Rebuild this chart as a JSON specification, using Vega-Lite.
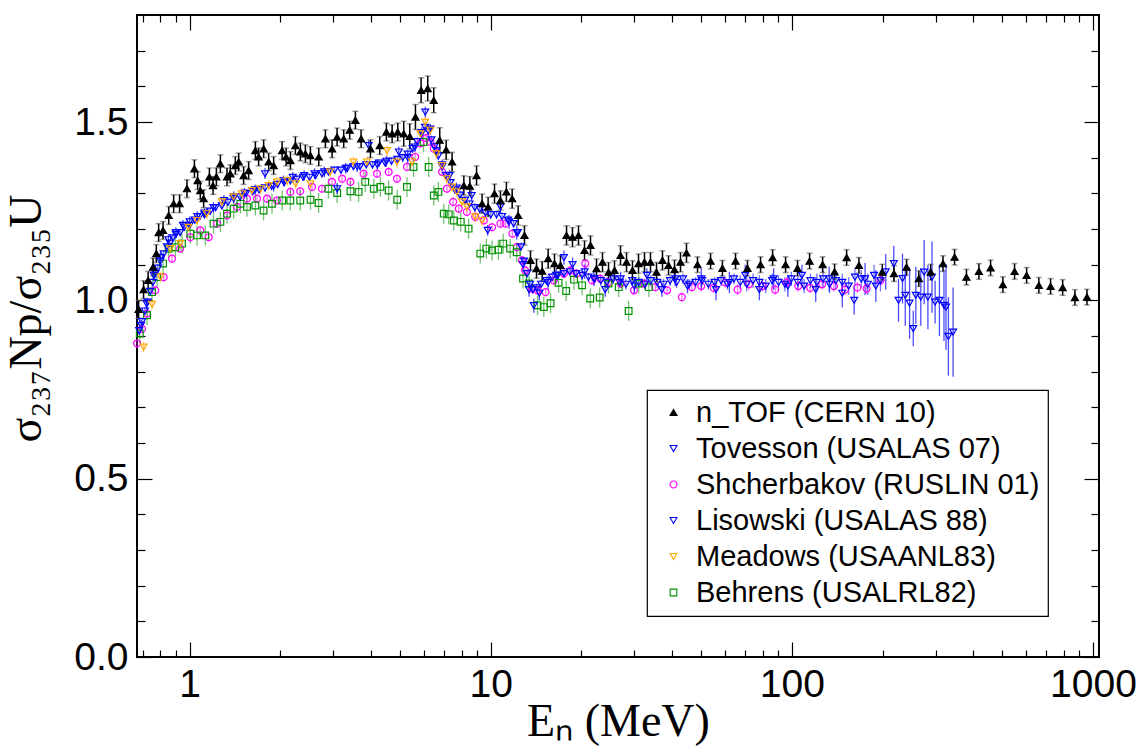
{
"$schema": "https://vega.github.io/schema/vega-lite/v6.json",
"width": 962, "height": 642,
"autosize": "none",
"padding": {"left": 137, "top": 15, "right": 47, "bottom": 99},
"background": "white",
"config": {
  "view": {"stroke": "black", "strokeWidth": 2},
  "axis": {"grid": false, "domain": false, "labelFont": "Liberation Sans", "labelColor": "black", "tickColor": "black", "tickWidth": 1.2},
  "legend": {"orient": "none", "legendX": 510, "legendY": 375, "fillColor": "white", "strokeColor": "black", "strokeWidth": 1.2, "padding": 8, "labelFont": "Liberation Sans", "labelFontSize": 29, "labelColor": "black", "rowPadding": 6, "labelOffset": 8, "symbolOffset": 4, "labelLimit": 600, "symbolStrokeWidth": 1.1}
},
"data": {"values": [
{"s":"Shcherbakov (RUSLIN 01)","E":0.669,"y":0.879,"e":0.012},
{"s":"Shcherbakov (RUSLIN 01)","E":0.695,"y":0.92,"e":0.012},
{"s":"Shcherbakov (RUSLIN 01)","E":0.722,"y":0.963,"e":0.012},
{"s":"Shcherbakov (RUSLIN 01)","E":0.769,"y":1.028,"e":0.012},
{"s":"Shcherbakov (RUSLIN 01)","E":0.82,"y":1.065,"e":0.012},
{"s":"Shcherbakov (RUSLIN 01)","E":0.874,"y":1.117,"e":0.012},
{"s":"Shcherbakov (RUSLIN 01)","E":0.93,"y":1.145,"e":0.012},
{"s":"Shcherbakov (RUSLIN 01)","E":1.005,"y":1.177,"e":0.012},
{"s":"Shcherbakov (RUSLIN 01)","E":1.085,"y":1.196,"e":0.012},
{"s":"Shcherbakov (RUSLIN 01)","E":1.157,"y":1.177,"e":0.012},
{"s":"Shcherbakov (RUSLIN 01)","E":1.233,"y":1.215,"e":0.012},
{"s":"Shcherbakov (RUSLIN 01)","E":1.331,"y":1.238,"e":0.012},
{"s":"Shcherbakov (RUSLIN 01)","E":1.437,"y":1.262,"e":0.012},
{"s":"Shcherbakov (RUSLIN 01)","E":1.55,"y":1.285,"e":0.012},
{"s":"Shcherbakov (RUSLIN 01)","E":1.674,"y":1.285,"e":0.012},
{"s":"Shcherbakov (RUSLIN 01)","E":1.807,"y":1.285,"e":0.012},
{"s":"Shcherbakov (RUSLIN 01)","E":1.95,"y":1.28,"e":0.012},
{"s":"Shcherbakov (RUSLIN 01)","E":2.16,"y":1.304,"e":0.012},
{"s":"Shcherbakov (RUSLIN 01)","E":2.33,"y":1.306,"e":0.012},
{"s":"Shcherbakov (RUSLIN 01)","E":2.55,"y":1.318,"e":0.012},
{"s":"Shcherbakov (RUSLIN 01)","E":2.75,"y":1.313,"e":0.012},
{"s":"Shcherbakov (RUSLIN 01)","E":2.97,"y":1.332,"e":0.012},
{"s":"Shcherbakov (RUSLIN 01)","E":3.21,"y":1.341,"e":0.012},
{"s":"Shcherbakov (RUSLIN 01)","E":3.42,"y":1.332,"e":0.012},
{"s":"Shcherbakov (RUSLIN 01)","E":3.78,"y":1.355,"e":0.012},
{"s":"Shcherbakov (RUSLIN 01)","E":4.19,"y":1.355,"e":0.012},
{"s":"Shcherbakov (RUSLIN 01)","E":4.58,"y":1.36,"e":0.012},
{"s":"Shcherbakov (RUSLIN 01)","E":4.88,"y":1.341,"e":0.012},
{"s":"Shcherbakov (RUSLIN 01)","E":5.27,"y":1.374,"e":0.012},
{"s":"Shcherbakov (RUSLIN 01)","E":5.61,"y":1.402,"e":0.012},
{"s":"Shcherbakov (RUSLIN 01)","E":5.84,"y":1.44,"e":0.012},
{"s":"Shcherbakov (RUSLIN 01)","E":6.1,"y":1.455,"e":0.012},
{"s":"Shcherbakov (RUSLIN 01)","E":6.3,"y":1.444,"e":0.012},
{"s":"Shcherbakov (RUSLIN 01)","E":6.47,"y":1.425,"e":0.012},
{"s":"Shcherbakov (RUSLIN 01)","E":6.89,"y":1.36,"e":0.012},
{"s":"Shcherbakov (RUSLIN 01)","E":7.15,"y":1.313,"e":0.012},
{"s":"Shcherbakov (RUSLIN 01)","E":7.5,"y":1.276,"e":0.012},
{"s":"Shcherbakov (RUSLIN 01)","E":7.83,"y":1.257,"e":0.012},
{"s":"Shcherbakov (RUSLIN 01)","E":8.33,"y":1.248,"e":0.012},
{"s":"Shcherbakov (RUSLIN 01)","E":8.88,"y":1.234,"e":0.012},
{"s":"Shcherbakov (RUSLIN 01)","E":9.48,"y":1.224,"e":0.012},
{"s":"Shcherbakov (RUSLIN 01)","E":10.1,"y":1.205,"e":0.012},
{"s":"Shcherbakov (RUSLIN 01)","E":10.77,"y":1.215,"e":0.012},
{"s":"Shcherbakov (RUSLIN 01)","E":11.2,"y":1.215,"e":0.012},
{"s":"Shcherbakov (RUSLIN 01)","E":11.8,"y":1.187,"e":0.012},
{"s":"Shcherbakov (RUSLIN 01)","E":12.2,"y":1.149,"e":0.012},
{"s":"Shcherbakov (RUSLIN 01)","E":12.7,"y":1.112,"e":0.012},
{"s":"Shcherbakov (RUSLIN 01)","E":13.0,"y":1.084,"e":0.012},
{"s":"Shcherbakov (RUSLIN 01)","E":13.7,"y":1.033,"e":0.012},
{"s":"Shcherbakov (RUSLIN 01)","E":14.3,"y":1.028,"e":0.012},
{"s":"Shcherbakov (RUSLIN 01)","E":15.2,"y":1.023,"e":0.012},
{"s":"Shcherbakov (RUSLIN 01)","E":16.2,"y":1.056,"e":0.012},
{"s":"Shcherbakov (RUSLIN 01)","E":17.5,"y":1.075,"e":0.012},
{"s":"Shcherbakov (RUSLIN 01)","E":18.4,"y":1.084,"e":0.012},
{"s":"Shcherbakov (RUSLIN 01)","E":19.3,"y":1.075,"e":0.012},
{"s":"Shcherbakov (RUSLIN 01)","E":20.6,"y":1.103,"e":0.012},
{"s":"Shcherbakov (RUSLIN 01)","E":21.7,"y":1.056,"e":0.012},
{"s":"Shcherbakov (RUSLIN 01)","E":23.1,"y":1.061,"e":0.012},
{"s":"Shcherbakov (RUSLIN 01)","E":24.6,"y":1.051,"e":0.012},
{"s":"Shcherbakov (RUSLIN 01)","E":27.0,"y":1.047,"e":0.012},
{"s":"Shcherbakov (RUSLIN 01)","E":29.9,"y":1.028,"e":0.012},
{"s":"Shcherbakov (RUSLIN 01)","E":32.2,"y":1.047,"e":0.012},
{"s":"Shcherbakov (RUSLIN 01)","E":35.2,"y":1.037,"e":0.012},
{"s":"Shcherbakov (RUSLIN 01)","E":38.5,"y":1.028,"e":0.012},
{"s":"Shcherbakov (RUSLIN 01)","E":43.1,"y":1.009,"e":0.012},
{"s":"Shcherbakov (RUSLIN 01)","E":46.5,"y":1.037,"e":0.012},
{"s":"Shcherbakov (RUSLIN 01)","E":50,"y":1.04,"e":0.015},
{"s":"Shcherbakov (RUSLIN 01)","E":55,"y":1.035,"e":0.015},
{"s":"Shcherbakov (RUSLIN 01)","E":60,"y":1.05,"e":0.015},
{"s":"Shcherbakov (RUSLIN 01)","E":66,"y":1.03,"e":0.015},
{"s":"Shcherbakov (RUSLIN 01)","E":72,"y":1.045,"e":0.015},
{"s":"Shcherbakov (RUSLIN 01)","E":80,"y":1.04,"e":0.015},
{"s":"Shcherbakov (RUSLIN 01)","E":88,"y":1.03,"e":0.015},
{"s":"Shcherbakov (RUSLIN 01)","E":96,"y":1.05,"e":0.015},
{"s":"Shcherbakov (RUSLIN 01)","E":105,"y":1.04,"e":0.015},
{"s":"Shcherbakov (RUSLIN 01)","E":115,"y":1.035,"e":0.015},
{"s":"Shcherbakov (RUSLIN 01)","E":126,"y":1.045,"e":0.015},
{"s":"Shcherbakov (RUSLIN 01)","E":138,"y":1.04,"e":0.015},
{"s":"Shcherbakov (RUSLIN 01)","E":150,"y":1.03,"e":0.015},
{"s":"Shcherbakov (RUSLIN 01)","E":165,"y":1.036,"e":0.015},
{"s":"Shcherbakov (RUSLIN 01)","E":177,"y":1.033,"e":0.015},
{"s":"Shcherbakov (RUSLIN 01)","E":197,"y":1.056,"e":0.015},
{"s":"Behrens (USALRL82)","E":0.683,"y":0.907,"e":0.028},
{"s":"Behrens (USALRL82)","E":0.722,"y":0.958,"e":0.028},
{"s":"Behrens (USALRL82)","E":0.75,"y":1.023,"e":0.028},
{"s":"Behrens (USALRL82)","E":0.78,"y":1.065,"e":0.028},
{"s":"Behrens (USALRL82)","E":0.816,"y":1.103,"e":0.028},
{"s":"Behrens (USALRL82)","E":0.852,"y":1.145,"e":0.028},
{"s":"Behrens (USALRL82)","E":0.896,"y":1.149,"e":0.028},
{"s":"Behrens (USALRL82)","E":0.943,"y":1.159,"e":0.028},
{"s":"Behrens (USALRL82)","E":1.005,"y":1.187,"e":0.028},
{"s":"Behrens (USALRL82)","E":1.058,"y":1.182,"e":0.028},
{"s":"Behrens (USALRL82)","E":1.127,"y":1.182,"e":0.028},
{"s":"Behrens (USALRL82)","E":1.2,"y":1.215,"e":0.028},
{"s":"Behrens (USALRL82)","E":1.265,"y":1.22,"e":0.028},
{"s":"Behrens (USALRL82)","E":1.331,"y":1.243,"e":0.028},
{"s":"Behrens (USALRL82)","E":1.4,"y":1.257,"e":0.028},
{"s":"Behrens (USALRL82)","E":1.474,"y":1.271,"e":0.028},
{"s":"Behrens (USALRL82)","E":1.55,"y":1.262,"e":0.028},
{"s":"Behrens (USALRL82)","E":1.653,"y":1.266,"e":0.028},
{"s":"Behrens (USALRL82)","E":1.76,"y":1.252,"e":0.028},
{"s":"Behrens (USALRL82)","E":1.877,"y":1.271,"e":0.028},
{"s":"Behrens (USALRL82)","E":2.03,"y":1.28,"e":0.028},
{"s":"Behrens (USALRL82)","E":2.16,"y":1.28,"e":0.028},
{"s":"Behrens (USALRL82)","E":2.33,"y":1.28,"e":0.028},
{"s":"Behrens (USALRL82)","E":2.52,"y":1.282,"e":0.028},
{"s":"Behrens (USALRL82)","E":2.68,"y":1.273,"e":0.028},
{"s":"Behrens (USALRL82)","E":2.89,"y":1.313,"e":0.028},
{"s":"Behrens (USALRL82)","E":3.09,"y":1.301,"e":0.028},
{"s":"Behrens (USALRL82)","E":3.42,"y":1.306,"e":0.028},
{"s":"Behrens (USALRL82)","E":3.64,"y":1.304,"e":0.028},
{"s":"Behrens (USALRL82)","E":3.83,"y":1.332,"e":0.028},
{"s":"Behrens (USALRL82)","E":4.09,"y":1.313,"e":0.028},
{"s":"Behrens (USALRL82)","E":4.3,"y":1.318,"e":0.028},
{"s":"Behrens (USALRL82)","E":4.58,"y":1.308,"e":0.028},
{"s":"Behrens (USALRL82)","E":4.89,"y":1.282,"e":0.028},
{"s":"Behrens (USALRL82)","E":5.27,"y":1.318,"e":0.028},
{"s":"Behrens (USALRL82)","E":5.54,"y":1.374,"e":0.028},
{"s":"Behrens (USALRL82)","E":5.98,"y":1.444,"e":0.028},
{"s":"Behrens (USALRL82)","E":6.22,"y":1.374,"e":0.028},
{"s":"Behrens (USALRL82)","E":6.47,"y":1.294,"e":0.028},
{"s":"Behrens (USALRL82)","E":6.7,"y":1.304,"e":0.028},
{"s":"Behrens (USALRL82)","E":6.98,"y":1.243,"e":0.028},
{"s":"Behrens (USALRL82)","E":7.25,"y":1.241,"e":0.028},
{"s":"Behrens (USALRL82)","E":7.54,"y":1.224,"e":0.028},
{"s":"Behrens (USALRL82)","E":7.95,"y":1.22,"e":0.028},
{"s":"Behrens (USALRL82)","E":8.44,"y":1.201,"e":0.028},
{"s":"Behrens (USALRL82)","E":9.23,"y":1.131,"e":0.028},
{"s":"Behrens (USALRL82)","E":9.67,"y":1.145,"e":0.028},
{"s":"Behrens (USALRL82)","E":10.1,"y":1.14,"e":0.028},
{"s":"Behrens (USALRL82)","E":10.6,"y":1.142,"e":0.028},
{"s":"Behrens (USALRL82)","E":11.0,"y":1.159,"e":0.028},
{"s":"Behrens (USALRL82)","E":11.6,"y":1.145,"e":0.028},
{"s":"Behrens (USALRL82)","E":12.2,"y":1.135,"e":0.028},
{"s":"Behrens (USALRL82)","E":12.8,"y":1.061,"e":0.028},
{"s":"Behrens (USALRL82)","E":13.4,"y":1.047,"e":0.028},
{"s":"Behrens (USALRL82)","E":14.3,"y":0.986,"e":0.028},
{"s":"Behrens (USALRL82)","E":15.0,"y":0.981,"e":0.028},
{"s":"Behrens (USALRL82)","E":15.8,"y":0.992,"e":0.028},
{"s":"Behrens (USALRL82)","E":16.8,"y":1.049,"e":0.028},
{"s":"Behrens (USALRL82)","E":17.8,"y":1.026,"e":0.028},
{"s":"Behrens (USALRL82)","E":18.9,"y":1.058,"e":0.028},
{"s":"Behrens (USALRL82)","E":20.1,"y":1.042,"e":0.028},
{"s":"Behrens (USALRL82)","E":21.4,"y":1.005,"e":0.028},
{"s":"Behrens (USALRL82)","E":23.0,"y":1.008,"e":0.028},
{"s":"Behrens (USALRL82)","E":24.6,"y":1.047,"e":0.028},
{"s":"Behrens (USALRL82)","E":26.6,"y":1.037,"e":0.028},
{"s":"Behrens (USALRL82)","E":28.7,"y":0.97,"e":0.028},
{"s":"Behrens (USALRL82)","E":31.0,"y":1.047,"e":0.028},
{"s":"Behrens (USALRL82)","E":33.5,"y":1.037,"e":0.028},
{"s":"Tovesson (USALAS 07)","E":0.68,"y":0.915,"e":0.012},
{"s":"Tovesson (USALAS 07)","E":0.695,"y":0.94,"e":0.012},
{"s":"Tovesson (USALAS 07)","E":0.71,"y":0.97,"e":0.012},
{"s":"Tovesson (USALAS 07)","E":0.725,"y":0.995,"e":0.012},
{"s":"Tovesson (USALAS 07)","E":0.74,"y":1.025,"e":0.012},
{"s":"Tovesson (USALAS 07)","E":0.755,"y":1.05,"e":0.012},
{"s":"Tovesson (USALAS 07)","E":0.77,"y":1.075,"e":0.012},
{"s":"Tovesson (USALAS 07)","E":0.785,"y":1.09,"e":0.012},
{"s":"Tovesson (USALAS 07)","E":0.8,"y":1.11,"e":0.01},
{"s":"Tovesson (USALAS 07)","E":0.82,"y":1.13,"e":0.01},
{"s":"Tovesson (USALAS 07)","E":0.84,"y":1.15,"e":0.01},
{"s":"Tovesson (USALAS 07)","E":0.86,"y":1.16,"e":0.01},
{"s":"Tovesson (USALAS 07)","E":0.88,"y":1.175,"e":0.01},
{"s":"Tovesson (USALAS 07)","E":0.9,"y":1.185,"e":0.01},
{"s":"Tovesson (USALAS 07)","E":0.93,"y":1.19,"e":0.01},
{"s":"Tovesson (USALAS 07)","E":0.96,"y":1.205,"e":0.01},
{"s":"Tovesson (USALAS 07)","E":1.0,"y":1.21,"e":0.01},
{"s":"Tovesson (USALAS 07)","E":1.04,"y":1.225,"e":0.01},
{"s":"Tovesson (USALAS 07)","E":1.08,"y":1.235,"e":0.01},
{"s":"Tovesson (USALAS 07)","E":1.12,"y":1.24,"e":0.01},
{"s":"Tovesson (USALAS 07)","E":1.17,"y":1.25,"e":0.01},
{"s":"Tovesson (USALAS 07)","E":1.22,"y":1.26,"e":0.01},
{"s":"Tovesson (USALAS 07)","E":1.28,"y":1.265,"e":0.01},
{"s":"Tovesson (USALAS 07)","E":1.34,"y":1.275,"e":0.01},
{"s":"Tovesson (USALAS 07)","E":1.4,"y":1.285,"e":0.01},
{"s":"Tovesson (USALAS 07)","E":1.47,"y":1.29,"e":0.01},
{"s":"Tovesson (USALAS 07)","E":1.54,"y":1.3,"e":0.01},
{"s":"Tovesson (USALAS 07)","E":1.62,"y":1.305,"e":0.01},
{"s":"Tovesson (USALAS 07)","E":1.7,"y":1.31,"e":0.01},
{"s":"Tovesson (USALAS 07)","E":1.78,"y":1.315,"e":0.01},
{"s":"Tovesson (USALAS 07)","E":1.87,"y":1.32,"e":0.01},
{"s":"Tovesson (USALAS 07)","E":1.96,"y":1.325,"e":0.01},
{"s":"Tovesson (USALAS 07)","E":2.06,"y":1.33,"e":0.01},
{"s":"Tovesson (USALAS 07)","E":2.16,"y":1.335,"e":0.01},
{"s":"Tovesson (USALAS 07)","E":2.27,"y":1.34,"e":0.01},
{"s":"Tovesson (USALAS 07)","E":2.38,"y":1.345,"e":0.01},
{"s":"Tovesson (USALAS 07)","E":2.5,"y":1.345,"e":0.01},
{"s":"Tovesson (USALAS 07)","E":2.62,"y":1.35,"e":0.01},
{"s":"Tovesson (USALAS 07)","E":2.75,"y":1.355,"e":0.01},
{"s":"Tovesson (USALAS 07)","E":2.89,"y":1.36,"e":0.01},
{"s":"Tovesson (USALAS 07)","E":3.03,"y":1.365,"e":0.01},
{"s":"Tovesson (USALAS 07)","E":3.18,"y":1.365,"e":0.01},
{"s":"Tovesson (USALAS 07)","E":3.34,"y":1.37,"e":0.01},
{"s":"Tovesson (USALAS 07)","E":3.5,"y":1.375,"e":0.01},
{"s":"Tovesson (USALAS 07)","E":3.68,"y":1.375,"e":0.01},
{"s":"Tovesson (USALAS 07)","E":3.86,"y":1.38,"e":0.01},
{"s":"Tovesson (USALAS 07)","E":4.05,"y":1.38,"e":0.01},
{"s":"Tovesson (USALAS 07)","E":4.25,"y":1.385,"e":0.01},
{"s":"Tovesson (USALAS 07)","E":4.46,"y":1.385,"e":0.01},
{"s":"Tovesson (USALAS 07)","E":4.68,"y":1.39,"e":0.01},
{"s":"Tovesson (USALAS 07)","E":4.9,"y":1.395,"e":0.01},
{"s":"Tovesson (USALAS 07)","E":5.1,"y":1.4,"e":0.012},
{"s":"Tovesson (USALAS 07)","E":5.3,"y":1.41,"e":0.012},
{"s":"Tovesson (USALAS 07)","E":5.5,"y":1.425,"e":0.012},
{"s":"Tovesson (USALAS 07)","E":5.7,"y":1.445,"e":0.012},
{"s":"Tovesson (USALAS 07)","E":5.9,"y":1.47,"e":0.012},
{"s":"Tovesson (USALAS 07)","E":6.05,"y":1.485,"e":0.012},
{"s":"Tovesson (USALAS 07)","E":6.2,"y":1.475,"e":0.012},
{"s":"Tovesson (USALAS 07)","E":6.35,"y":1.45,"e":0.012},
{"s":"Tovesson (USALAS 07)","E":6.5,"y":1.43,"e":0.012},
{"s":"Tovesson (USALAS 07)","E":6.7,"y":1.405,"e":0.012},
{"s":"Tovesson (USALAS 07)","E":6.9,"y":1.375,"e":0.012},
{"s":"Tovesson (USALAS 07)","E":7.1,"y":1.35,"e":0.012},
{"s":"Tovesson (USALAS 07)","E":7.35,"y":1.33,"e":0.012},
{"s":"Tovesson (USALAS 07)","E":7.6,"y":1.31,"e":0.012},
{"s":"Tovesson (USALAS 07)","E":7.9,"y":1.295,"e":0.012},
{"s":"Tovesson (USALAS 07)","E":8.2,"y":1.28,"e":0.012},
{"s":"Tovesson (USALAS 07)","E":8.5,"y":1.27,"e":0.012},
{"s":"Tovesson (USALAS 07)","E":8.85,"y":1.26,"e":0.012},
{"s":"Tovesson (USALAS 07)","E":9.2,"y":1.255,"e":0.012},
{"s":"Tovesson (USALAS 07)","E":9.6,"y":1.245,"e":0.012},
{"s":"Tovesson (USALAS 07)","E":10.0,"y":1.24,"e":0.012},
{"s":"Tovesson (USALAS 07)","E":10.45,"y":1.24,"e":0.012},
{"s":"Tovesson (USALAS 07)","E":10.9,"y":1.235,"e":0.012},
{"s":"Tovesson (USALAS 07)","E":11.4,"y":1.225,"e":0.012},
{"s":"Tovesson (USALAS 07)","E":11.9,"y":1.215,"e":0.012},
{"s":"Tovesson (USALAS 07)","E":12.3,"y":1.19,"e":0.012},
{"s":"Tovesson (USALAS 07)","E":12.6,"y":1.15,"e":0.012},
{"s":"Tovesson (USALAS 07)","E":12.9,"y":1.11,"e":0.012},
{"s":"Tovesson (USALAS 07)","E":13.2,"y":1.075,"e":0.012},
{"s":"Tovesson (USALAS 07)","E":13.5,"y":1.045,"e":0.012},
{"s":"Tovesson (USALAS 07)","E":13.8,"y":1.03,"e":0.012},
{"s":"Tovesson (USALAS 07)","E":14.2,"y":1.035,"e":0.012},
{"s":"Tovesson (USALAS 07)","E":14.7,"y":1.045,"e":0.012},
{"s":"Tovesson (USALAS 07)","E":15.3,"y":1.055,"e":0.012},
{"s":"Tovesson (USALAS 07)","E":16.0,"y":1.065,"e":0.012},
{"s":"Tovesson (USALAS 07)","E":16.7,"y":1.07,"e":0.012},
{"s":"Tovesson (USALAS 07)","E":17.5,"y":1.075,"e":0.012},
{"s":"Tovesson (USALAS 07)","E":18.3,"y":1.08,"e":0.012},
{"s":"Tovesson (USALAS 07)","E":19.2,"y":1.075,"e":0.012},
{"s":"Tovesson (USALAS 07)","E":20.1,"y":1.07,"e":0.012},
{"s":"Tovesson (USALAS 07)","E":21.1,"y":1.065,"e":0.012},
{"s":"Tovesson (USALAS 07)","E":22.1,"y":1.06,"e":0.015},
{"s":"Tovesson (USALAS 07)","E":23.2,"y":1.055,"e":0.015},
{"s":"Tovesson (USALAS 07)","E":24.3,"y":1.05,"e":0.015},
{"s":"Tovesson (USALAS 07)","E":25.5,"y":1.06,"e":0.015},
{"s":"Tovesson (USALAS 07)","E":26.8,"y":1.05,"e":0.015},
{"s":"Tovesson (USALAS 07)","E":28.1,"y":1.045,"e":0.015},
{"s":"Tovesson (USALAS 07)","E":29.5,"y":1.055,"e":0.015},
{"s":"Tovesson (USALAS 07)","E":31,"y":1.05,"e":0.015},
{"s":"Tovesson (USALAS 07)","E":32.5,"y":1.045,"e":0.015},
{"s":"Tovesson (USALAS 07)","E":34,"y":1.055,"e":0.015},
{"s":"Tovesson (USALAS 07)","E":35.7,"y":1.05,"e":0.015},
{"s":"Tovesson (USALAS 07)","E":37.5,"y":1.045,"e":0.015},
{"s":"Tovesson (USALAS 07)","E":39.4,"y":1.055,"e":0.015},
{"s":"Tovesson (USALAS 07)","E":41.4,"y":1.05,"e":0.015},
{"s":"Tovesson (USALAS 07)","E":43.5,"y":1.06,"e":0.015},
{"s":"Tovesson (USALAS 07)","E":45.6,"y":1.045,"e":0.015},
{"s":"Tovesson (USALAS 07)","E":47.9,"y":1.05,"e":0.015},
{"s":"Tovesson (USALAS 07)","E":50.3,"y":1.055,"e":0.015},
{"s":"Tovesson (USALAS 07)","E":52.8,"y":1.045,"e":0.015},
{"s":"Tovesson (USALAS 07)","E":55.4,"y":1.05,"e":0.015},
{"s":"Tovesson (USALAS 07)","E":58.2,"y":1.055,"e":0.015},
{"s":"Tovesson (USALAS 07)","E":61.1,"y":1.045,"e":0.015},
{"s":"Tovesson (USALAS 07)","E":64.2,"y":1.06,"e":0.015},
{"s":"Tovesson (USALAS 07)","E":67.4,"y":1.05,"e":0.02},
{"s":"Tovesson (USALAS 07)","E":70.8,"y":1.045,"e":0.02},
{"s":"Tovesson (USALAS 07)","E":74.3,"y":1.055,"e":0.02},
{"s":"Tovesson (USALAS 07)","E":78,"y":1.05,"e":0.02},
{"s":"Tovesson (USALAS 07)","E":81.9,"y":1.04,"e":0.02},
{"s":"Tovesson (USALAS 07)","E":86,"y":1.055,"e":0.02},
{"s":"Tovesson (USALAS 07)","E":90.3,"y":1.05,"e":0.02},
{"s":"Tovesson (USALAS 07)","E":94.8,"y":1.045,"e":0.02},
{"s":"Tovesson (USALAS 07)","E":99.6,"y":1.06,"e":0.02},
{"s":"Tovesson (USALAS 07)","E":104.6,"y":1.05,"e":0.02},
{"s":"Tovesson (USALAS 07)","E":109.8,"y":1.04,"e":0.02},
{"s":"Tovesson (USALAS 07)","E":115.3,"y":1.055,"e":0.02},
{"s":"Tovesson (USALAS 07)","E":121,"y":1.05,"e":0.025},
{"s":"Tovesson (USALAS 07)","E":127,"y":1.06,"e":0.025},
{"s":"Tovesson (USALAS 07)","E":133.4,"y":1.045,"e":0.025},
{"s":"Tovesson (USALAS 07)","E":140,"y":1.055,"e":0.025},
{"s":"Tovesson (USALAS 07)","E":147,"y":1.05,"e":0.025},
{"s":"Tovesson (USALAS 07)","E":154.4,"y":1.04,"e":0.025},
{"s":"Tovesson (USALAS 07)","E":162,"y":1.065,"e":0.025},
{"s":"Tovesson (USALAS 07)","E":170,"y":1.06,"e":0.025},
{"s":"Tovesson (USALAS 07)","E":178.6,"y":1.045,"e":0.03},
{"s":"Tovesson (USALAS 07)","E":187.5,"y":1.07,"e":0.03},
{"s":"Tovesson (USALAS 07)","E":196.9,"y":1.055,"e":0.03},
{"s":"Lisowski (USALAS 88)","E":0.69,"y":0.93,"e":0.015},
{"s":"Lisowski (USALAS 88)","E":0.72,"y":0.99,"e":0.015},
{"s":"Lisowski (USALAS 88)","E":0.76,"y":1.07,"e":0.015},
{"s":"Lisowski (USALAS 88)","E":0.8,"y":1.12,"e":0.015},
{"s":"Lisowski (USALAS 88)","E":0.85,"y":1.17,"e":0.015},
{"s":"Lisowski (USALAS 88)","E":0.9,"y":1.19,"e":0.015},
{"s":"Lisowski (USALAS 88)","E":0.95,"y":1.21,"e":0.015},
{"s":"Lisowski (USALAS 88)","E":1.0,"y":1.22,"e":0.015},
{"s":"Lisowski (USALAS 88)","E":1.06,"y":1.235,"e":0.015},
{"s":"Lisowski (USALAS 88)","E":1.12,"y":1.245,"e":0.015},
{"s":"Lisowski (USALAS 88)","E":1.2,"y":1.26,"e":0.015},
{"s":"Lisowski (USALAS 88)","E":1.3,"y":1.28,"e":0.015},
{"s":"Lisowski (USALAS 88)","E":1.4,"y":1.29,"e":0.015},
{"s":"Lisowski (USALAS 88)","E":1.52,"y":1.3,"e":0.015},
{"s":"Lisowski (USALAS 88)","E":1.65,"y":1.31,"e":0.015},
{"s":"Lisowski (USALAS 88)","E":1.78,"y":1.355,"e":0.015},
{"s":"Lisowski (USALAS 88)","E":1.9,"y":1.32,"e":0.015},
{"s":"Lisowski (USALAS 88)","E":2.05,"y":1.335,"e":0.015},
{"s":"Lisowski (USALAS 88)","E":2.2,"y":1.345,"e":0.015},
{"s":"Lisowski (USALAS 88)","E":2.4,"y":1.35,"e":0.015},
{"s":"Lisowski (USALAS 88)","E":2.6,"y":1.355,"e":0.015},
{"s":"Lisowski (USALAS 88)","E":2.8,"y":1.36,"e":0.015},
{"s":"Lisowski (USALAS 88)","E":3.09,"y":1.313,"e":0.015},
{"s":"Lisowski (USALAS 88)","E":3.3,"y":1.37,"e":0.015},
{"s":"Lisowski (USALAS 88)","E":3.6,"y":1.375,"e":0.015},
{"s":"Lisowski (USALAS 88)","E":3.93,"y":1.434,"e":0.015},
{"s":"Lisowski (USALAS 88)","E":4.2,"y":1.38,"e":0.015},
{"s":"Lisowski (USALAS 88)","E":4.5,"y":1.39,"e":0.015},
{"s":"Lisowski (USALAS 88)","E":4.95,"y":1.416,"e":0.015},
{"s":"Lisowski (USALAS 88)","E":5.3,"y":1.4,"e":0.015},
{"s":"Lisowski (USALAS 88)","E":5.6,"y":1.43,"e":0.015},
{"s":"Lisowski (USALAS 88)","E":5.9,"y":1.47,"e":0.015},
{"s":"Lisowski (USALAS 88)","E":6.06,"y":1.528,"e":0.015},
{"s":"Lisowski (USALAS 88)","E":6.3,"y":1.48,"e":0.015},
{"s":"Lisowski (USALAS 88)","E":6.6,"y":1.42,"e":0.015},
{"s":"Lisowski (USALAS 88)","E":6.9,"y":1.38,"e":0.015},
{"s":"Lisowski (USALAS 88)","E":7.3,"y":1.35,"e":0.015},
{"s":"Lisowski (USALAS 88)","E":7.7,"y":1.315,"e":0.015},
{"s":"Lisowski (USALAS 88)","E":8.64,"y":1.294,"e":0.015},
{"s":"Lisowski (USALAS 88)","E":9.77,"y":1.196,"e":0.015},
{"s":"Lisowski (USALAS 88)","E":10.77,"y":1.262,"e":0.02},
{"s":"Lisowski (USALAS 88)","E":11.5,"y":1.22,"e":0.02},
{"s":"Lisowski (USALAS 88)","E":12.2,"y":1.19,"e":0.02},
{"s":"Lisowski (USALAS 88)","E":12.8,"y":1.1,"e":0.02},
{"s":"Lisowski (USALAS 88)","E":13.4,"y":1.03,"e":0.02},
{"s":"Lisowski (USALAS 88)","E":13.9,"y":0.985,"e":0.02},
{"s":"Lisowski (USALAS 88)","E":14.5,"y":1.02,"e":0.02},
{"s":"Lisowski (USALAS 88)","E":15.5,"y":1.05,"e":0.02},
{"s":"Lisowski (USALAS 88)","E":16.5,"y":1.07,"e":0.02},
{"s":"Lisowski (USALAS 88)","E":17.5,"y":1.12,"e":0.02},
{"s":"Lisowski (USALAS 88)","E":18.7,"y":1.1,"e":0.02},
{"s":"Lisowski (USALAS 88)","E":20.5,"y":1.08,"e":0.02},
{"s":"Lisowski (USALAS 88)","E":22,"y":1.06,"e":0.02},
{"s":"Lisowski (USALAS 88)","E":24,"y":1.03,"e":0.02},
{"s":"Lisowski (USALAS 88)","E":27,"y":1.06,"e":0.02},
{"s":"Lisowski (USALAS 88)","E":30,"y":1.04,"e":0.02},
{"s":"Lisowski (USALAS 88)","E":33,"y":1.07,"e":0.02},
{"s":"Lisowski (USALAS 88)","E":37,"y":1.03,"e":0.02},
{"s":"Lisowski (USALAS 88)","E":41,"y":1.06,"e":0.02},
{"s":"Lisowski (USALAS 88)","E":45,"y":1.04,"e":0.02},
{"s":"Lisowski (USALAS 88)","E":50,"y":1.06,"e":0.03},
{"s":"Lisowski (USALAS 88)","E":56,"y":1.03,"e":0.03},
{"s":"Lisowski (USALAS 88)","E":62,"y":1.05,"e":0.03},
{"s":"Lisowski (USALAS 88)","E":70,"y":1.07,"e":0.03},
{"s":"Lisowski (USALAS 88)","E":78,"y":1.03,"e":0.03},
{"s":"Lisowski (USALAS 88)","E":87,"y":1.06,"e":0.03},
{"s":"Lisowski (USALAS 88)","E":97,"y":1.04,"e":0.03},
{"s":"Lisowski (USALAS 88)","E":108,"y":1.07,"e":0.03},
{"s":"Lisowski (USALAS 88)","E":120,"y":1.03,"e":0.035},
{"s":"Lisowski (USALAS 88)","E":133,"y":1.06,"e":0.035},
{"s":"Lisowski (USALAS 88)","E":147,"y":1.02,"e":0.04},
{"s":"Lisowski (USALAS 88)","E":161,"y":1.0,"e":0.04},
{"s":"Lisowski (USALAS 88)","E":175,"y":1.06,"e":0.045},
{"s":"Lisowski (USALAS 88)","E":190,"y":1.04,"e":0.045},
{"s":"Lisowski (USALAS 88)","E":205,"y":1.08,"e":0.05},
{"s":"Lisowski (USALAS 88)","E":218,"y":1.103,"e":0.05},
{"s":"Lisowski (USALAS 88)","E":226,"y":1.0,"e":0.06},
{"s":"Lisowski (USALAS 88)","E":233,"y":1.061,"e":0.07},
{"s":"Lisowski (USALAS 88)","E":238,"y":1.014,"e":0.085},
{"s":"Lisowski (USALAS 88)","E":246,"y":0.992,"e":0.1},
{"s":"Lisowski (USALAS 88)","E":253,"y":0.921,"e":0.05},
{"s":"Lisowski (USALAS 88)","E":258,"y":1.014,"e":0.08},
{"s":"Lisowski (USALAS 88)","E":268,"y":1.009,"e":0.08},
{"s":"Lisowski (USALAS 88)","E":275,"y":1.079,"e":0.09},
{"s":"Lisowski (USALAS 88)","E":283,"y":1.009,"e":0.09},
{"s":"Lisowski (USALAS 88)","E":292,"y":1.065,"e":0.1},
{"s":"Lisowski (USALAS 88)","E":299,"y":0.995,"e":0.06},
{"s":"Lisowski (USALAS 88)","E":309,"y":1.0,"e":0.1},
{"s":"Lisowski (USALAS 88)","E":320,"y":0.986,"e":0.1},
{"s":"Lisowski (USALAS 88)","E":325,"y":0.981,"e":0.12},
{"s":"Lisowski (USALAS 88)","E":331,"y":0.899,"e":0.11},
{"s":"Lisowski (USALAS 88)","E":343,"y":0.911,"e":0.125},
{"s":"Meadows (USAANL83)","E":0.703,"y":0.869,"e":0.015},
{"s":"Meadows (USAANL83)","E":0.75,"y":0.989,"e":0.015},
{"s":"Meadows (USAANL83)","E":0.8,"y":1.065,"e":0.015},
{"s":"Meadows (USAANL83)","E":0.863,"y":1.145,"e":0.015},
{"s":"Meadows (USAANL83)","E":0.93,"y":1.159,"e":0.015},
{"s":"Meadows (USAANL83)","E":0.99,"y":1.205,"e":0.015},
{"s":"Meadows (USAANL83)","E":1.058,"y":1.224,"e":0.015},
{"s":"Meadows (USAANL83)","E":1.14,"y":1.243,"e":0.015},
{"s":"Meadows (USAANL83)","E":1.28,"y":1.276,"e":0.015},
{"s":"Meadows (USAANL83)","E":1.4,"y":1.29,"e":0.015},
{"s":"Meadows (USAANL83)","E":1.49,"y":1.299,"e":0.015},
{"s":"Meadows (USAANL83)","E":1.61,"y":1.308,"e":0.015},
{"s":"Meadows (USAANL83)","E":1.72,"y":1.313,"e":0.015},
{"s":"Meadows (USAANL83)","E":1.83,"y":1.322,"e":0.015},
{"s":"Meadows (USAANL83)","E":1.95,"y":1.332,"e":0.015},
{"s":"Meadows (USAANL83)","E":2.11,"y":1.336,"e":0.015},
{"s":"Meadows (USAANL83)","E":2.25,"y":1.327,"e":0.015},
{"s":"Meadows (USAANL83)","E":2.52,"y":1.327,"e":0.015},
{"s":"Meadows (USAANL83)","E":2.93,"y":1.36,"e":0.015},
{"s":"Meadows (USAANL83)","E":3.5,"y":1.388,"e":0.015},
{"s":"Meadows (USAANL83)","E":3.88,"y":1.388,"e":0.015},
{"s":"Meadows (USAANL83)","E":4.52,"y":1.42,"e":0.015},
{"s":"Meadows (USAANL83)","E":4.88,"y":1.388,"e":0.015},
{"s":"Meadows (USAANL83)","E":5.48,"y":1.388,"e":0.015},
{"s":"Meadows (USAANL83)","E":5.84,"y":1.467,"e":0.015},
{"s":"Meadows (USAANL83)","E":6.06,"y":1.5,"e":0.015},
{"s":"Meadows (USAANL83)","E":6.3,"y":1.477,"e":0.015},
{"s":"Meadows (USAANL83)","E":6.6,"y":1.411,"e":0.015},
{"s":"Meadows (USAANL83)","E":6.89,"y":1.378,"e":0.015},
{"s":"Meadows (USAANL83)","E":7.15,"y":1.341,"e":0.015},
{"s":"Meadows (USAANL83)","E":7.44,"y":1.318,"e":0.015},
{"s":"Meadows (USAANL83)","E":7.72,"y":1.304,"e":0.015},
{"s":"Meadows (USAANL83)","E":8.02,"y":1.276,"e":0.015},
{"s":"Meadows (USAANL83)","E":8.33,"y":1.262,"e":0.015},
{"s":"Meadows (USAANL83)","E":8.88,"y":1.234,"e":0.015},
{"s":"Meadows (USAANL83)","E":9.36,"y":1.224,"e":0.015},
{"s":"n_TOF (CERN 10)","E":0.677,"y":0.975,"e":0.025},
{"s":"n_TOF (CERN 10)","E":0.703,"y":1.03,"e":0.025},
{"s":"n_TOF (CERN 10)","E":0.728,"y":1.056,"e":0.025},
{"s":"n_TOF (CERN 10)","E":0.756,"y":1.093,"e":0.025},
{"s":"n_TOF (CERN 10)","E":0.775,"y":1.131,"e":0.025},
{"s":"n_TOF (CERN 10)","E":0.789,"y":1.19,"e":0.025},
{"s":"n_TOF (CERN 10)","E":0.816,"y":1.196,"e":0.025},
{"s":"n_TOF (CERN 10)","E":0.852,"y":1.238,"e":0.025},
{"s":"n_TOF (CERN 10)","E":0.885,"y":1.271,"e":0.025},
{"s":"n_TOF (CERN 10)","E":0.926,"y":1.271,"e":0.025},
{"s":"n_TOF (CERN 10)","E":0.98,"y":1.313,"e":0.025},
{"s":"n_TOF (CERN 10)","E":1.037,"y":1.369,"e":0.025},
{"s":"n_TOF (CERN 10)","E":1.063,"y":1.336,"e":0.025},
{"s":"n_TOF (CERN 10)","E":1.085,"y":1.308,"e":0.025},
{"s":"n_TOF (CERN 10)","E":1.113,"y":1.285,"e":0.025},
{"s":"n_TOF (CERN 10)","E":1.163,"y":1.346,"e":0.025},
{"s":"n_TOF (CERN 10)","E":1.196,"y":1.322,"e":0.025},
{"s":"n_TOF (CERN 10)","E":1.227,"y":1.346,"e":0.025},
{"s":"n_TOF (CERN 10)","E":1.265,"y":1.383,"e":0.025},
{"s":"n_TOF (CERN 10)","E":1.331,"y":1.346,"e":0.025},
{"s":"n_TOF (CERN 10)","E":1.365,"y":1.355,"e":0.025},
{"s":"n_TOF (CERN 10)","E":1.418,"y":1.378,"e":0.025},
{"s":"n_TOF (CERN 10)","E":1.455,"y":1.388,"e":0.025},
{"s":"n_TOF (CERN 10)","E":1.511,"y":1.35,"e":0.025},
{"s":"n_TOF (CERN 10)","E":1.57,"y":1.364,"e":0.025},
{"s":"n_TOF (CERN 10)","E":1.653,"y":1.42,"e":0.025},
{"s":"n_TOF (CERN 10)","E":1.695,"y":1.402,"e":0.025},
{"s":"n_TOF (CERN 10)","E":1.761,"y":1.425,"e":0.025},
{"s":"n_TOF (CERN 10)","E":1.83,"y":1.388,"e":0.025},
{"s":"n_TOF (CERN 10)","E":1.901,"y":1.378,"e":0.025},
{"s":"n_TOF (CERN 10)","E":2.028,"y":1.42,"e":0.025},
{"s":"n_TOF (CERN 10)","E":2.091,"y":1.402,"e":0.025},
{"s":"n_TOF (CERN 10)","E":2.161,"y":1.392,"e":0.025},
{"s":"n_TOF (CERN 10)","E":2.245,"y":1.434,"e":0.025},
{"s":"n_TOF (CERN 10)","E":2.332,"y":1.416,"e":0.025},
{"s":"n_TOF (CERN 10)","E":2.423,"y":1.411,"e":0.025},
{"s":"n_TOF (CERN 10)","E":2.518,"y":1.406,"e":0.025},
{"s":"n_TOF (CERN 10)","E":2.684,"y":1.402,"e":0.025},
{"s":"n_TOF (CERN 10)","E":2.824,"y":1.453,"e":0.025},
{"s":"n_TOF (CERN 10)","E":2.972,"y":1.425,"e":0.025},
{"s":"n_TOF (CERN 10)","E":3.088,"y":1.458,"e":0.025},
{"s":"n_TOF (CERN 10)","E":3.248,"y":1.453,"e":0.025},
{"s":"n_TOF (CERN 10)","E":3.401,"y":1.477,"e":0.025},
{"s":"n_TOF (CERN 10)","E":3.552,"y":1.505,"e":0.025},
{"s":"n_TOF (CERN 10)","E":3.71,"y":1.453,"e":0.025},
{"s":"n_TOF (CERN 10)","E":3.985,"y":1.425,"e":0.025},
{"s":"n_TOF (CERN 10)","E":4.278,"y":1.434,"e":0.025},
{"s":"n_TOF (CERN 10)","E":4.503,"y":1.472,"e":0.025},
{"s":"n_TOF (CERN 10)","E":4.704,"y":1.467,"e":0.025},
{"s":"n_TOF (CERN 10)","E":4.91,"y":1.472,"e":0.025},
{"s":"n_TOF (CERN 10)","E":5.14,"y":1.467,"e":0.035},
{"s":"n_TOF (CERN 10)","E":5.382,"y":1.46,"e":0.035},
{"s":"n_TOF (CERN 10)","E":5.622,"y":1.514,"e":0.035},
{"s":"n_TOF (CERN 10)","E":5.871,"y":1.589,"e":0.035},
{"s":"n_TOF (CERN 10)","E":6.175,"y":1.594,"e":0.035},
{"s":"n_TOF (CERN 10)","E":6.465,"y":1.561,"e":0.035},
{"s":"n_TOF (CERN 10)","E":6.77,"y":1.449,"e":0.035},
{"s":"n_TOF (CERN 10)","E":7.11,"y":1.422,"e":0.027},
{"s":"n_TOF (CERN 10)","E":7.44,"y":1.388,"e":0.027},
{"s":"n_TOF (CERN 10)","E":8.14,"y":1.322,"e":0.027},
{"s":"n_TOF (CERN 10)","E":8.52,"y":1.32,"e":0.027},
{"s":"n_TOF (CERN 10)","E":8.97,"y":1.35,"e":0.027},
{"s":"n_TOF (CERN 10)","E":9.36,"y":1.271,"e":0.027},
{"s":"n_TOF (CERN 10)","E":9.8,"y":1.262,"e":0.027},
{"s":"n_TOF (CERN 10)","E":10.29,"y":1.299,"e":0.027},
{"s":"n_TOF (CERN 10)","E":10.77,"y":1.28,"e":0.027},
{"s":"n_TOF (CERN 10)","E":11.27,"y":1.304,"e":0.027},
{"s":"n_TOF (CERN 10)","E":11.78,"y":1.285,"e":0.027},
{"s":"n_TOF (CERN 10)","E":12.33,"y":1.238,"e":0.027},
{"s":"n_TOF (CERN 10)","E":12.94,"y":1.182,"e":0.027},
{"s":"n_TOF (CERN 10)","E":13.55,"y":1.112,"e":0.027},
{"s":"n_TOF (CERN 10)","E":14.19,"y":1.089,"e":0.027},
{"s":"n_TOF (CERN 10)","E":14.82,"y":1.082,"e":0.027},
{"s":"n_TOF (CERN 10)","E":15.51,"y":1.117,"e":0.027},
{"s":"n_TOF (CERN 10)","E":16.28,"y":1.103,"e":0.027},
{"s":"n_TOF (CERN 10)","E":17.04,"y":1.098,"e":0.027},
{"s":"n_TOF (CERN 10)","E":17.85,"y":1.182,"e":0.027},
{"s":"n_TOF (CERN 10)","E":18.68,"y":1.177,"e":0.027},
{"s":"n_TOF (CERN 10)","E":19.56,"y":1.182,"e":0.027},
{"s":"n_TOF (CERN 10)","E":20.48,"y":1.14,"e":0.027},
{"s":"n_TOF (CERN 10)","E":21.44,"y":1.154,"e":0.027},
{"s":"n_TOF (CERN 10)","E":22.45,"y":1.089,"e":0.027},
{"s":"n_TOF (CERN 10)","E":23.5,"y":1.107,"e":0.027},
{"s":"n_TOF (CERN 10)","E":24.61,"y":1.079,"e":0.027},
{"s":"n_TOF (CERN 10)","E":25.76,"y":1.084,"e":0.027},
{"s":"n_TOF (CERN 10)","E":26.97,"y":1.126,"e":0.027},
{"s":"n_TOF (CERN 10)","E":28.24,"y":1.107,"e":0.027},
{"s":"n_TOF (CERN 10)","E":29.56,"y":1.084,"e":0.027},
{"s":"n_TOF (CERN 10)","E":30.95,"y":1.103,"e":0.027},
{"s":"n_TOF (CERN 10)","E":32.4,"y":1.107,"e":0.027},
{"s":"n_TOF (CERN 10)","E":33.92,"y":1.107,"e":0.027},
{"s":"n_TOF (CERN 10)","E":35.52,"y":1.079,"e":0.027},
{"s":"n_TOF (CERN 10)","E":37.18,"y":1.112,"e":0.027},
{"s":"n_TOF (CERN 10)","E":38.93,"y":1.098,"e":0.027},
{"s":"n_TOF (CERN 10)","E":40.76,"y":1.086,"e":0.027},
{"s":"n_TOF (CERN 10)","E":42.67,"y":1.107,"e":0.027},
{"s":"n_TOF (CERN 10)","E":44.67,"y":1.133,"e":0.027},
{"s":"n_TOF (CERN 10)","E":48.6,"y":1.1,"e":0.022},
{"s":"n_TOF (CERN 10)","E":53.7,"y":1.11,"e":0.022},
{"s":"n_TOF (CERN 10)","E":58.8,"y":1.09,"e":0.022},
{"s":"n_TOF (CERN 10)","E":65.0,"y":1.11,"e":0.022},
{"s":"n_TOF (CERN 10)","E":71.2,"y":1.09,"e":0.022},
{"s":"n_TOF (CERN 10)","E":78.7,"y":1.1,"e":0.022},
{"s":"n_TOF (CERN 10)","E":86.3,"y":1.12,"e":0.022},
{"s":"n_TOF (CERN 10)","E":95.3,"y":1.1,"e":0.022},
{"s":"n_TOF (CERN 10)","E":104.4,"y":1.09,"e":0.022},
{"s":"n_TOF (CERN 10)","E":114.5,"y":1.11,"e":0.022},
{"s":"n_TOF (CERN 10)","E":126.5,"y":1.1,"e":0.022},
{"s":"n_TOF (CERN 10)","E":138.6,"y":1.08,"e":0.022},
{"s":"n_TOF (CERN 10)","E":152,"y":1.12,"e":0.022},
{"s":"n_TOF (CERN 10)","E":167,"y":1.098,"e":0.022},
{"s":"n_TOF (CERN 10)","E":199.6,"y":1.079,"e":0.022},
{"s":"n_TOF (CERN 10)","E":218.3,"y":1.075,"e":0.022},
{"s":"n_TOF (CERN 10)","E":240.4,"y":1.093,"e":0.022},
{"s":"n_TOF (CERN 10)","E":264,"y":1.061,"e":0.022},
{"s":"n_TOF (CERN 10)","E":289,"y":1.079,"e":0.022},
{"s":"n_TOF (CERN 10)","E":317.6,"y":1.103,"e":0.022},
{"s":"n_TOF (CERN 10)","E":347,"y":1.121,"e":0.022},
{"s":"n_TOF (CERN 10)","E":380,"y":1.065,"e":0.022},
{"s":"n_TOF (CERN 10)","E":418,"y":1.081,"e":0.022},
{"s":"n_TOF (CERN 10)","E":457,"y":1.091,"e":0.022},
{"s":"n_TOF (CERN 10)","E":502,"y":1.044,"e":0.022},
{"s":"n_TOF (CERN 10)","E":549,"y":1.081,"e":0.022},
{"s":"n_TOF (CERN 10)","E":602,"y":1.07,"e":0.022},
{"s":"n_TOF (CERN 10)","E":661,"y":1.042,"e":0.022},
{"s":"n_TOF (CERN 10)","E":723,"y":1.039,"e":0.022},
{"s":"n_TOF (CERN 10)","E":793,"y":1.036,"e":0.022},
{"s":"n_TOF (CERN 10)","E":871,"y":1.008,"e":0.022},
{"s":"n_TOF (CERN 10)","E":955,"y":1.009,"e":0.022}
]},
"layer": [
  {
    "transform": [{"filter": "datum.s != 'n_TOF (CERN 10)' && datum.s != 'Lisowski (USALAS 88)'"}],
    "mark": {"type": "errorbar", "thickness": 1.3, "opacity": 0.55},
    "encoding": {
      "x": {"field": "E", "type": "quantitative", "scale": {"type": "log", "domain": [0.6686, 1047], "nice": false},
            "axis": {"orient": "bottom", "values": [0.7,0.8,0.9,2,3,4,5,6,7,8,9,20,30,40,50,60,70,80,90,200,300,400,500,600,700,800,900], "tickSize": -7, "labels": false, "title": null}},
      "y": {"field": "y", "type": "quantitative", "scale": {"domain": [0, 1.8], "nice": false, "zero": false},
            "axis": {"orient": "left", "values": [0.1,0.2,0.3,0.4,0.6,0.7,0.8,0.9,1.1,1.2,1.3,1.4,1.6,1.7], "tickSize": -8, "labels": false, "title": null}},
      "yError": {"field": "e"},
      "color": {"field": "s", "type": "nominal", "legend": null,
                "scale": {"domain": ["Tovesson (USALAS 07)","Shcherbakov (RUSLIN 01)","Meadows (USAANL83)","Behrens (USALRL82)"], "range": ["#0000ff","#ff00ff","#ffa500","#009000"]}}
    }
  },
  {
    "transform": [{"filter": "datum.s == 'Lisowski (USALAS 88)'"}],
    "mark": {"type": "errorbar", "thickness": 1.3, "opacity": 0.7, "color": "#0000ff"},
    "encoding": {
      "x": {"field": "E", "type": "quantitative", "scale": {"type": "log", "domain": [0.6686, 1047], "nice": false},
            "axis": {"orient": "top", "values": [0.7,0.8,0.9,2,3,4,5,6,7,8,9,20,30,40,50,60,70,80,90,200,300,400,500,600,700,800,900], "tickSize": -7, "labels": false, "title": null}},
      "y": {"field": "y", "type": "quantitative", "scale": {"domain": [0, 1.8], "nice": false, "zero": false},
            "axis": {"orient": "right", "values": [0.1,0.2,0.3,0.4,0.6,0.7,0.8,0.9,1.1,1.2,1.3,1.4,1.6,1.7], "tickSize": -8, "labels": false, "title": null}},
      "yError": {"field": "e"}
    }
  },
  {
    "transform": [{"filter": "datum.s == 'n_TOF (CERN 10)'"}],
    "mark": {"type": "errorbar", "thickness": 1.5, "color": "black", "ticks": {"color": "#777777", "size": 6, "thickness": 1.5}},
    "encoding": {
      "x": {"field": "E", "type": "quantitative", "scale": {"type": "log", "domain": [0.6686, 1047], "nice": false},
            "axis": {"orient": "top", "values": [1,10,100,1000], "tickSize": -15, "labels": false, "title": null}},
      "y": {"field": "y", "type": "quantitative", "scale": {"domain": [0, 1.8], "nice": false, "zero": false},
            "axis": {"orient": "right", "values": [0,0.5,1,1.5], "tickSize": -15, "labels": false, "title": null}},
      "yError": {"field": "e"}
    }
  },
  {
    "mark": {"type": "point", "strokeWidth": 1.2, "opacity": 1},
    "encoding": {
      "x": {"field": "E", "type": "quantitative", "scale": {"type": "log", "domain": [0.6686, 1047], "nice": false},
            "axis": {"orient": "bottom", "values": [1,10,100,1000], "format": "d", "tickSize": -15, "labelPadding": 23, "labelFontSize": 39, "labelFlush": false, "labelOverlap": false,
                     "title": "Eₙ (MeV)", "titleFont": "Liberation Serif", "titleFontSize": 46, "titleFontWeight": "normal", "titleColor": "black", "titleY": 78, "titleBaseline": "alphabetic"}},
      "y": {"field": "y", "type": "quantitative", "scale": {"domain": [0, 1.8], "nice": false, "zero": false},
            "axis": {"orient": "left", "values": [0,0.5,1,1.5], "format": ".1f", "tickSize": -15, "labelPadding": 24, "labelFontSize": 39, "labelFlush": false, "labelOverlap": false,
                     "title": "σ₂₃₇Np/σ₂₃₅U", "titleFont": "Liberation Serif", "titleFontSize": 46, "titleFontWeight": "normal", "titleColor": "black", "titleAngle": -90, "titleX": -97, "titleY": 303, "titleAlign": "center", "titleBaseline": "alphabetic"}},
      "shape": {"field": "s", "type": "nominal", "legend": {"title": null},
                "scale": {"domain": ["n_TOF (CERN 10)","Tovesson (USALAS 07)","Shcherbakov (RUSLIN 01)","Lisowski (USALAS 88)","Meadows (USAANL83)","Behrens (USALRL82)"],
                          "range": ["triangle-up","triangle-down","circle","triangle-down","triangle-down","square"]}},
      "stroke": {"field": "s", "type": "nominal", "legend": {"title": null},
                "scale": {"domain": ["n_TOF (CERN 10)","Tovesson (USALAS 07)","Shcherbakov (RUSLIN 01)","Lisowski (USALAS 88)","Meadows (USAANL83)","Behrens (USALRL82)"],
                          "range": ["black","#0000ff","#ff00ff","#0000ff","#ffa500","#009000"]}},
      "fill": {"field": "s", "type": "nominal", "legend": {"title": null},
                "scale": {"domain": ["n_TOF (CERN 10)","Tovesson (USALAS 07)","Shcherbakov (RUSLIN 01)","Lisowski (USALAS 88)","Meadows (USAANL83)","Behrens (USALRL82)"],
                          "range": ["black","transparent","transparent","transparent","transparent","transparent"]}},
      "size": {"field": "s", "type": "nominal", "legend": {"title": null},
                "scale": {"domain": ["n_TOF (CERN 10)","Tovesson (USALAS 07)","Shcherbakov (RUSLIN 01)","Lisowski (USALAS 88)","Meadows (USAANL83)","Behrens (USALRL82)"],
                          "range": [50, 45, 70, 110, 75, 62]}}
    }
  }
],
"resolve": {"axis": {"x": "independent", "y": "independent"}}
}
